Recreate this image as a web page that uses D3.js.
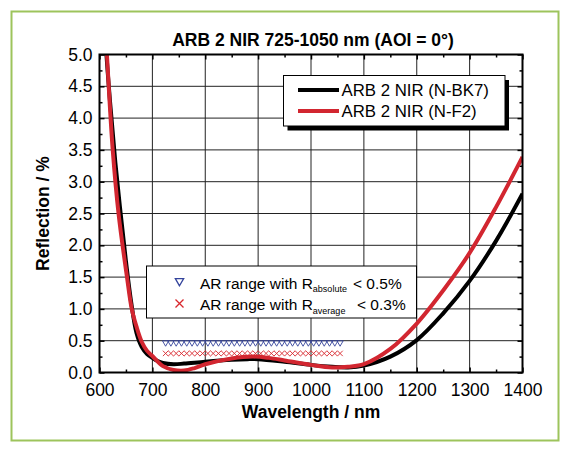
<!DOCTYPE html>
<html>
<head>
<meta charset="utf-8">
<script src="https://cdn.jsdelivr.net/npm/d3@7"></script>
<style>
  body { margin: 0; background: #fff; }
  svg { display: block; font-family: 'Liberation Sans', Arial, sans-serif; }
</style>
</head>
<body>
<svg id="chart" width="569" height="455"></svg>
<script>
// curves (wavelength nm, reflection %)
let wlBK7 = [605, 610, 620, 630, 640, 650, 660, 670, 680, 690, 700, 710, 720, 740, 760, 800, 850, 880, 900, 950, 1000, 1040, 1070, 1100, 1150, 1200, 1250, 1300, 1350, 1400]
let rBK7  = [6.0, 5.35, 4.25, 3.3, 2.5, 1.75, 1.1, 0.62, 0.4, 0.29, 0.23, 0.18, 0.15, 0.13, 0.14, 0.17, 0.2, 0.21, 0.21, 0.17, 0.12, 0.09, 0.08, 0.11, 0.25, 0.51, 0.93, 1.44, 2.07, 2.81]

let wlF2 = [605, 614, 625, 636, 652, 661, 670, 680, 690, 700, 720, 740, 760, 780, 800, 850, 890, 920, 950, 1000, 1040, 1070, 1100, 1150, 1200, 1250, 1300, 1350, 1400]
let rF2  = [6.3, 5.0, 3.5, 2.5, 1.5, 1.0, 0.72, 0.48, 0.34, 0.26, 0.1, 0.04, 0.03, 0.07, 0.13, 0.22, 0.25, 0.23, 0.19, 0.12, 0.08, 0.09, 0.13, 0.37, 0.77, 1.29, 1.88, 2.6, 3.39]

// AR range markers
let arWl = [725, 735, 745, 755, 765, 775, 785, 795, 805, 815, 825, 835, 845, 855, 865, 875, 885, 895, 905, 915, 925, 935, 945, 955, 965, 975, 985, 995, 1005, 1015, 1025, 1035, 1045, 1055]
let arAbsLevel = 0.47
let arAvgLevel = 0.3

let xTicks = [600, 700, 800, 900, 1000, 1100, 1200, 1300, 1400]
let xMinor = [650, 750, 850, 950, 1050, 1150, 1250, 1350]
let yTicks = [0, 0.5, 1, 1.5, 2, 2.5, 3, 3.5, 4, 4.5, 5]
let yMinor = [0.25, 0.75, 1.25, 1.75, 2.25, 2.75, 3.25, 3.75, 4.25, 4.75]

let seriesNames = ['ARB 2 NIR (N-BK7)', 'ARB 2 NIR (N-F2)']
let seriesColors = ['#000000', '#d22630']

let svg = d3.select('#chart')
let pLeft = 99.5, pRight = 522.5, pTop = 54.5, pBottom = 372.5

let x = d3.scaleLinear().domain([600, 1400]).range([pLeft, pRight])
let y = d3.scaleLinear().domain([0, 5]).range([pBottom, pTop])

// outer green frame
svg.append('rect')
  .attr('x', 11.5).attr('y', 11.5)
  .attr('width', 547).attr('height', 429)
  .attr('fill', 'none')
  .attr('stroke', '#9dc45c')
  .attr('stroke-width', 2)

svg.append('text')
  .attr('x', 313).attr('y', 46)
  .attr('text-anchor', 'middle')
  .attr('font-weight', 'bold')
  .attr('font-size', '17.5px')
  .text('ARB 2 NIR 725-1050 nm (AOI = 0°)')

// grid
let grid = svg.append('g')
grid.selectAll('.vg').data(xTicks.slice(1, -1)).join('line')
  .attr('x1', d => x(d)).attr('x2', d => x(d))
  .attr('y1', pTop).attr('y2', pBottom)
  .attr('stroke', '#222').attr('stroke-width', 1)
grid.selectAll('.hg').data(yTicks.slice(1, -1)).join('line')
  .attr('y1', d => y(d)).attr('y2', d => y(d))
  .attr('x1', pLeft).attr('x2', pRight)
  .attr('stroke', '#222').attr('stroke-width', 1)

// axes, ticks pointing inwards
let styleAxis = g => {
  g.select('.domain').remove()
  g.selectAll('line').attr('stroke', '#000').attr('stroke-width', 1.5)
  g.selectAll('text').attr('font-size', '17.5px').attr('fill', '#000').attr('font-family', 'Liberation Sans, Arial, sans-serif')
}

svg.append('g').attr('transform', `translate(0,${pBottom})`)
  .call(d3.axisBottom(x).tickValues(xTicks).tickSize(-5).tickPadding(11).tickFormat(d3.format('d')))
  .call(styleAxis)
svg.append('g').attr('transform', `translate(0,${pBottom})`)
  .call(d3.axisBottom(x).tickValues(xMinor).tickSize(-3).tickFormat(''))
  .call(styleAxis)
svg.append('g').attr('transform', `translate(0,${pTop})`)
  .call(d3.axisTop(x).tickValues(xTicks).tickSize(-5).tickFormat(''))
  .call(styleAxis)
svg.append('g').attr('transform', `translate(0,${pTop})`)
  .call(d3.axisTop(x).tickValues(xMinor).tickSize(-3).tickFormat(''))
  .call(styleAxis)

svg.append('g').attr('transform', `translate(${pLeft},0)`)
  .call(d3.axisLeft(y).tickValues(yTicks).tickSize(-5).tickPadding(7).tickFormat(d3.format('.1f')))
  .call(styleAxis)
svg.append('g').attr('transform', `translate(${pLeft},0)`)
  .call(d3.axisLeft(y).tickValues(yMinor).tickSize(-3).tickFormat(''))
  .call(styleAxis)
svg.append('g').attr('transform', `translate(${pRight},0)`)
  .call(d3.axisRight(y).tickValues(yTicks).tickSize(-5).tickFormat(''))
  .call(styleAxis)
svg.append('g').attr('transform', `translate(${pRight},0)`)
  .call(d3.axisRight(y).tickValues(yMinor).tickSize(-3).tickFormat(''))
  .call(styleAxis)

// axis titles
svg.append('text')
  .attr('x', 311).attr('y', 418)
  .attr('text-anchor', 'middle')
  .attr('font-weight', 'bold')
  .attr('font-size', '17.5px')
  .text('Wavelength / nm')
svg.append('text')
  .attr('transform', `translate(49,${(pTop + pBottom) / 2}) rotate(-90)`)
  .attr('text-anchor', 'middle')
  .attr('font-weight', 'bold')
  .attr('font-size', '17.5px')
  .text('Reflection / %')

// curves
svg.append('clipPath').attr('id', 'plotClip')
  .append('rect')
  .attr('x', pLeft).attr('y', pTop)
  .attr('width', pRight - pLeft).attr('height', pBottom - pTop)

let line = d3.line()
  .x(d => x(d[0]))
  .y(d => y(d[1]))
  .curve(d3.curveCatmullRom.alpha(0.5))

let curves = svg.append('g').attr('clip-path', 'url(#plotClip)')
curves.append('path')
  .datum(d3.zip(wlBK7, rBK7))
  .attr('d', line)
  .attr('fill', 'none')
  .attr('stroke', seriesColors[0])
  .attr('stroke-width', 4)
curves.append('path')
  .datum(d3.zip(wlF2, rF2))
  .attr('d', line)
  .attr('fill', 'none')
  .attr('stroke', seriesColors[1])
  .attr('stroke-width', 4)

// frame
svg.append('rect')
  .attr('x', pLeft).attr('y', pTop)
  .attr('width', pRight - pLeft).attr('height', pBottom - pTop)
  .attr('fill', 'none')
  .attr('stroke', '#000')
  .attr('stroke-width', 2)

// markers
let triangle = d3.symbol().type(d3.symbolTriangle)
let cross = r => `M${-r},${-r}L${r},${r}M${-r},${r}L${r},${-r}`
let blue = '#34449c', red = '#d8262c'

svg.append('g').selectAll('path').data(arWl).join('path')
  .attr('d', triangle.size(17))
  .attr('transform', d => `translate(${x(d)},${y(arAbsLevel)}) rotate(180)`)
  .attr('fill', 'none')
  .attr('stroke', blue)
  .attr('stroke-width', 0.9)
svg.append('g').selectAll('path').data(arWl).join('path')
  .attr('d', cross(2.7))
  .attr('transform', d => `translate(${x(d)},${y(arAvgLevel)})`)
  .attr('fill', 'none')
  .attr('stroke', red)
  .attr('stroke-width', 0.9)

// series legend with shadow
let leg = svg.append('g')
leg.append('rect')
  .attr('x', 287.5).attr('y', 80)
  .attr('width', 221.5).attr('height', 50.5)
  .attr('fill', '#000')
leg.append('rect')
  .attr('x', 283.5).attr('y', 75.5)
  .attr('width', 221.5).attr('height', 50.5)
  .attr('fill', '#fff')
  .attr('stroke', '#000')
seriesNames.forEach((name, i) => {
  let cy = 90 + i * 21
  leg.append('line')
    .attr('x1', 298).attr('x2', 339)
    .attr('y1', cy).attr('y2', cy)
    .attr('stroke', seriesColors[i])
    .attr('stroke-width', 4)
  leg.append('text')
    .attr('x', 341.5).attr('y', cy + 6)
    .attr('font-size', '16.8px')
    .text(name)
})

// AR range legend
let leg2 = svg.append('g')
leg2.append('rect')
  .attr('x', 146.5).attr('y', 266)
  .attr('width', 270).attr('height', 52)
  .attr('fill', '#fff')
  .attr('stroke', '#000')
leg2.append('path')
  .attr('d', triangle.size(30))
  .attr('transform', 'translate(179.5,281) rotate(180)')
  .attr('fill', 'none').attr('stroke', blue).attr('stroke-width', 1.3)
leg2.append('path')
  .attr('d', cross(4))
  .attr('transform', 'translate(179.5,303.5)')
  .attr('fill', 'none').attr('stroke', red).attr('stroke-width', 1.3)

let arRows = [
  {sub: 'absolute', limit: '< 0.5%', base: 288.5, limitX: 353},
  {sub: 'average', limit: '< 0.3%', base: 310, limitX: 357}
]
arRows.forEach(r => {
  let t = leg2.append('text')
    .attr('x', 200).attr('y', r.base)
    .attr('font-size', '15.5px')
  t.append('tspan').text('AR range with R')
  t.append('tspan')
    .attr('dy', 3.5)
    .attr('font-size', '9px')
    .text(r.sub)
  leg2.append('text')
    .attr('x', r.limitX).attr('y', r.base)
    .attr('font-size', '15.5px')
    .text(r.limit)
})
</script>
</body>
</html>
